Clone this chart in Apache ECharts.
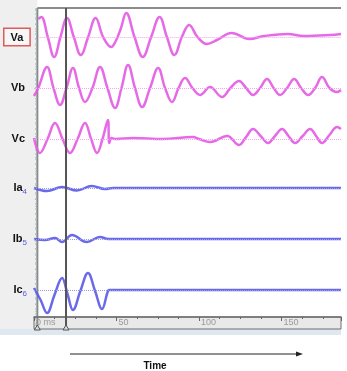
<!DOCTYPE html>
<html>
<head>
<meta charset="utf-8">
<script src="https://cdn.jsdelivr.net/npm/echarts@6/dist/echarts.min.js"></script>
<style>
html, body { margin: 0; padding: 0; background: #fff; }
#scope { width: 347px; height: 371px; }
</style>
</head>
<body>
<div id="scope"></div>
<script>
// channel names top -> bottom, and the little channel numbers next to them
var channelNames = ['Va', 'Vb', 'Vc', 'Ia', 'Ib', 'Ic'];
var channelTags = ['', '', '', '4', '5', '6'];

// time axis, ms
var timeMin = 0, timeMax = 186, timeStep = 50;
var cursorTime = 17;

// traces: [ms, amplitude] (peaks, troughs and crossings)
var va = [[0, 18], [1.8, 20], [5.8, 0], [9.7, -20], [13.6, 0], [17.6, 19], [21.8, 0], [26.1, -18], [30.6, 0],
    [35.2, 19], [39.8, 0], [44.8, -10], [47.3, -5], [50.6, 8], [54, 24], [59.1, 0], [64.2, -20], [69.3, 0],
    [74.5, 20], [79, 0], [83.6, -18], [88.2, 0], [92.7, 12], [97.8, 0], [103.6, -7], [109.7, -3], [118.8, 4],
    [129.7, -2], [138.8, 1], [153.3, 3], [163, 1], [179.4, 2], [186, 3]];
var vb = [[0, -8], [2.6, 0], [7.9, 21], [11.8, 0], [15.8, -17], [19.7, 0], [23.6, 20], [27.3, 0], [30.9, -14],
    [35.4, 0], [40, 21], [44.5, 0], [49.1, -20], [53, 0], [57, 23], [61.2, 0], [65.5, -19], [70.3, 0],
    [75.2, 20], [79.4, 0], [83.6, -14], [87.6, 0], [91.5, 10], [96, 0], [100.6, -7], [106.7, 1], [113.9, -9],
    [119, 0], [124.2, 7], [128.5, 0], [132.7, -7], [137, 0], [141.2, 9], [145.2, 0], [149.1, -7], [153.3, 0],
    [157.6, 9], [161.8, 0], [166.1, -7], [170.3, 0], [174.5, 11], [179, 0], [183.6, -4], [186, -2]];
var vc = [[0, 1], [3.6, -14], [8.2, 0], [12.7, 16], [17.3, 0], [21.8, -14], [26.4, 0], [30.9, 16], [34.6, 0],
    [38.2, -14], [41.5, 0], [44.8, 19], [45.6, -4], [47, 1], [49, 0], [60, 1], [78, 0], [96.4, 2], [100, 0],
    [106.7, -3], [117, 3], [124.2, -6], [128.5, 2], [132.7, 10], [137.3, 3], [141.8, -4], [146, 3], [150.3, 10],
    [154.2, 3], [158.2, -4], [162.8, 3], [167.3, 10], [170.9, 3], [174.5, -4], [179, 4], [183.6, 12], [186, 10]];
var ia = [[0, 0], [7.9, -3], [17, 1], [26, -2.5], [35, 2], [43, -1], [48, 0], [100, 0], [186, 0]];
var ib = [[0, 0], [6.7, -1], [12.7, 1], [17, -3], [23, 4], [32, -3], [40, 2], [45, 0], [100, 0], [186, 0]];
var ic = [[0, 2], [4, -10], [7.9, -23], [12.4, -5], [17, 12], [20.3, -4], [23.6, -20], [28.1, -1], [32.7, 17],
    [37, -1], [41.2, -19], [44.6, -2], [45.5, 0], [100, 0], [186, 0]];

var traces = [va, vb, vc, ia, ib, ic];

var pink = '#e35ae3', pinkDot = '#f0a6f0';
var blue = '#5a5ae6', blueDot = '#9a9af2';
var rowCenters = [37, 88, 139, 188, 239, 290];

var grids = [], xAxes = [], yAxes = [], series = [];
for (var i = 0; i < traces.length; i++) {
    var isV = i < 3;
    grids.push({ left: 34, right: 6, top: rowCenters[i] - 25, height: 50 });
    xAxes.push({ gridIndex: i, type: 'value', min: timeMin, max: timeMax, show: false });
    var nm = i == 0 ? '{box|' + channelNames[i] + '}' : '{n|' + channelNames[i] + '}{t|' + channelTags[i] + '}';
    yAxes.push({
        gridIndex: i, type: 'value', min: -25, max: 25,
        axisLine: { show: false }, axisTick: { show: false }, axisLabel: { show: false }, splitLine: { show: false },
        name: nm, nameLocation: 'middle', nameRotate: 0, nameGap: i == 0 ? 9 : (channelTags[i] ? 7 : 9),
        nameTextStyle: {
            rich: {
                box: { fontFamily: 'Liberation Sans', fontWeight: 'bold', fontSize: 11, color: '#111',
                    borderColor: '#e05a5a', borderWidth: 1.5, padding: [3, 6, 2, 6], backgroundColor: '#f7f7f7' },
                n: { fontFamily: 'Liberation Sans', fontWeight: 'bold', fontSize: 11, color: '#111' },
                t: { fontFamily: 'Liberation Sans', fontSize: 8, color: blue, padding: [7, 0, 0, 0] }
            }
        }
    });
    series.push({
        type: 'line', xAxisIndex: i, yAxisIndex: i, data: traces[i],
        smooth: 0.4, showSymbol: false, clip: false, z: 3,
        lineStyle: { color: isV ? pink : blue, width: 2.5, opacity: 0.9 },
        markLine: {
            silent: true, symbol: ['none', 'none'], label: { show: false },
            lineStyle: { type: 'dotted', color: isV ? pinkDot : blueDot, width: 1 },
            data: [{ yAxis: 0 }]
        }
    });
}

// time scale strip under the traces
grids.push({ left: 34, right: 6, top: 317, height: 12, show: true, backgroundColor: '#e9e9e9',
    borderColor: '#6f6f6f', borderWidth: 1 });
xAxes.push({
    gridIndex: 6, type: 'value', min: timeMin, max: timeMax, interval: timeStep, position: 'top',
    axisLine: { onZero: false, lineStyle: { color: '#6f6f6f', width: 1.5 } },
    axisTick: { inside: true, length: 4, lineStyle: { color: '#666' } },
    minorTick: { show: true, splitNumber: 4, length: 2, lineStyle: { color: '#666' } },
    splitLine: { show: false },
    axisLabel: {
        inside: true, margin: 1, align: 'left', color: '#9a9a9a', fontSize: 9, fontFamily: 'Liberation Sans',
        showMaxLabel: false, padding: [0, 0, 0, 2],
        formatter: function (v) { return v == 0 ? '0 ms' : String(v); }
    }
});
yAxes.push({ gridIndex: 6, type: 'value', show: false });

var chart = echarts.init(document.getElementById('scope'));
chart.setOption({
    animation: false,
    grid: grids, xAxis: xAxes, yAxis: yAxes, series: series
});

try {
    var cx = chart.convertToPixel({ xAxisIndex: 0 }, cursorTime);
    var x0 = chart.convertToPixel({ xAxisIndex: 0 }, timeMin);
    var x1 = chart.convertToPixel({ xAxisIndex: 0 }, timeMax);
    chart.setOption({
        graphic: [
            { type: 'rect', z: -1, shape: { x: 0, y: 0, width: x0 - 1, height: 329 }, style: { fill: '#efefef' } },
            { type: 'rect', z: -1, shape: { x: 0, y: 329, width: x1, height: 6 }, style: { fill: '#dfe7f1' } },
            { type: 'line', shape: { x1: x0 - 1, y1: 8, x2: x1, y2: 8 }, style: { stroke: '#8c8c8c', lineWidth: 2 } },
            { type: 'line', shape: { x1: x0 - 1, y1: 8, x2: x0 - 1, y2: 329 }, style: { stroke: '#8a8a8a', lineWidth: 2 } },
            { type: 'line', shape: { x1: x0 - 2.5, y1: 8, x2: x0 - 2.5, y2: 329 },
                style: { stroke: '#7fd6d6', lineWidth: 1, lineDash: [2, 3] } },
            { type: 'line', shape: { x1: x0 - 2.5, y1: 10, x2: x0 - 2.5, y2: 329 },
                style: { stroke: '#e79a9a', lineWidth: 1, lineDash: [1, 6] } },
            { type: 'line', z: 5, shape: { x1: cx, y1: 8, x2: cx, y2: 330 }, style: { stroke: '#555', lineWidth: 2 } },
            { type: 'polygon', z: 5, shape: { points: [[cx - 3, 330], [cx + 3, 330], [cx, 325]] },
                style: { fill: '#ddd', stroke: '#555', lineWidth: 1 } },
            { type: 'polygon', z: 5, shape: { points: [[x0 - 4, 330], [x0 + 2, 330], [x0 - 1, 325]] },
                style: { fill: '#ddd', stroke: '#555', lineWidth: 1 } },
            // time arrow
            { type: 'line', shape: { x1: 70, y1: 354, x2: 298, y2: 354 }, style: { stroke: '#222', lineWidth: 1 } },
            { type: 'polygon', shape: { points: [[296, 351.5], [303, 354], [296, 356.5]] }, style: { fill: '#222' } },
            { type: 'text', x: 155, y: 366,
                style: { text: 'Time', font: 'bold 10px "Liberation Sans"', fill: '#111',
                    textAlign: 'center', textVerticalAlign: 'middle' } }
        ]
    });
} catch (e) {
    console.log(e);
}
</script>
</body>
</html>
